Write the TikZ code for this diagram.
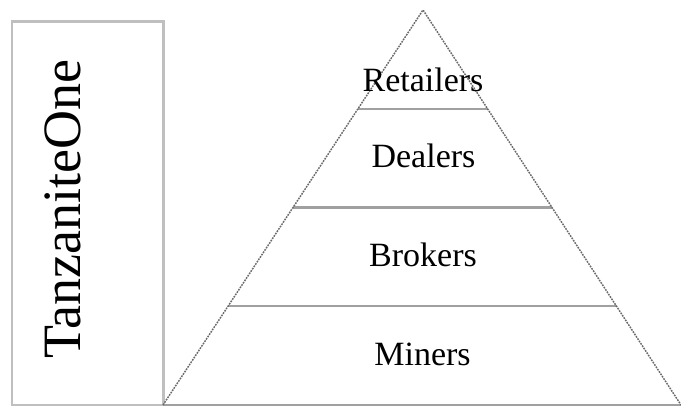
\documentclass[tikz,border=0pt]{standalone}
\usepackage{fontspec}
\setmainfont{Liberation Serif}
\usetikzlibrary{calc}
\definecolor{boxgray}{HTML}{BFBFBF}
\definecolor{sidegray}{HTML}{6A6A6A}
\definecolor{levgray}{HTML}{A0A0A0}
\begin{document}
\begin{tikzpicture}[x=0.75pt,y=-0.75pt,
  boxstyle/.style={draw=boxgray,line width=2.1pt},
  sidestyle/.style={draw=sidegray,line width=1.1pt,dash pattern=on 1.3pt off 0.8pt},
  levstyle/.style={draw=levgray,line width=1.6pt},
  lab/.style={font=\fontsize{25.5}{28}\selectfont,inner sep=0pt,anchor=base},
  biglab/.style={font=\fontsize{40.5}{44}\selectfont,inner sep=0pt,anchor=base,rotate=90}]
\useasboundingbox (0,0) rectangle (681,406);
% company box
\node[boxstyle,minimum width=151.5*0.75pt,minimum height=383*0.75pt,anchor=north west,inner sep=0pt] (box) at (10.5,20.5) {};
\node[biglab] (tz) at (80,209) {TanzaniteOne};
% pyramid
\coordinate (apex) at (423,10);
\coordinate (bl) at (163,405);
\coordinate (br) at (681,405);
\coordinate (l1) at ($(apex)!0.25!(bl)$);
\coordinate (r1) at ($(apex)!0.25!(br)$);
\coordinate (l2) at ($(apex)!0.5!(bl)$);
\coordinate (r2) at ($(apex)!0.5!(br)$);
\coordinate (l3) at ($(apex)!0.75!(bl)$);
\coordinate (r3) at ($(apex)!0.75!(br)$);
\draw[levstyle] (bl) -- (br);
\draw[levstyle] (l1) -- (r1);
\draw[levstyle] (l2) -- (r2);
\draw[levstyle] (l3) -- (r3);
\draw[sidestyle] (bl) -- (apex) -- (br);
% labels
\node[lab] (ret) at (423,92) {Retailers};
\node[lab] (dea) at (423.5,167) {Dealers};
\node[lab] (bro) at (423,266) {Brokers};
\node[lab] (min) at (422.5,365) {Miners};
\end{tikzpicture}
\end{document}
